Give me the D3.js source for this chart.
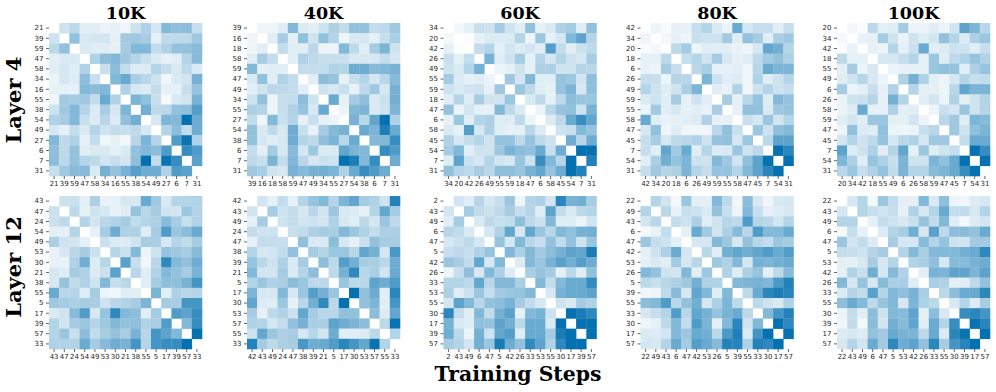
<!DOCTYPE html>
<html>
<head>
<meta charset="utf-8">
<script src="https://cdn.jsdelivr.net/npm/d3@7"></script>
<style>
body { margin: 0; background: #fff; }
svg { display: block; }
.axis text { font-family: "DejaVu Sans"; font-size: 7px; fill: #262626; }
.axis line { stroke: #262626; stroke-width: 0.7; }
.title { font-family: "DejaVu Serif"; font-weight: bold; }
</style>
</head>
<body>
<div id="chart"></div>
<script>
// neuron labels per panel
const labels_l4_10k = [21,39,59,47,58,34,16,55,38,54,49,27,6,7,31];
const labels_l4_40k = [39,16,18,58,59,47,49,34,55,27,54,38,6,7,31];
const labels_l4_60k = [34,20,42,26,49,55,59,18,47,6,58,45,54,7,31];
const labels_l4_80k = [42,34,20,18,6,26,49,59,55,58,47,45,7,54,31];
const labels_l4_100k = [20,34,42,18,55,49,6,26,58,59,47,45,7,54,31];
const labels_l12_10k = [43,47,24,54,49,53,30,21,38,55,5,17,39,57,33];
const labels_l12_40k = [42,43,49,24,47,38,39,21,5,17,30,53,57,55,33];
const labels_l12_60k = [2,43,49,6,47,5,42,26,33,53,55,30,17,39,57];
const labels_l12_80k = [22,49,43,6,47,42,53,26,5,39,55,33,30,17,57];
const labels_l12_100k = [22,43,49,6,47,5,53,42,26,33,55,30,39,17,57];

// upper triangles (rows right of the diagonal)
const values_l4_10k = [
  [2,2.7,1.2,1.2,.8,1,.6,2,3.2,1.7,5,4.5,4.6,2.3],
  [4.4,1.5,1.7,1.7,1,3.7,3.8,3.5,1,2.6,2.6,2.7,3.8],
  [1.5,1.3,1.3,1,3.6,5,5,2.4,3.2,4.3,4.3,4.8],
  [3.2,4.6,5,3.8,3,2.2,1.5,1,1.2,3,4.8],
  [2.2,4.6,2.4,1.4,1.4,3,2.4,1.5,2.6,1.5],
  [5,6,3.4,2.8,2,.6,1.5,1.8,5.5],
  [3.2,1.6,1.4,2.4,1,1,2.3,4.2],
  [5.2,4.4,2.2,.5,1.5,1.8,5.4],
  [5.6,2.6,2.8,4.4,4.5,6.8],
  [1.6,5.2,5,10,5.8],
  [3,4.6,2.4,5.8],
  [7,9.8,3.2],
  [8,7],
  [6.6]
];
const values_l4_40k = [
  [.7,.7,1.3,5,1.5,1.2,2,3.3,2.5,4.3,4.3,2.4,2.6,3.8],
  [1.2,3.6,1.1,4.4,1.9,4.4,3,.7,1.5,1.7,1.1,2.2,3.4],
  [2.4,1.2,1.2,2.8,.7,.7,5,2.6,1.2,3.6,5.3,1.9],
  [1.2,3.2,2.6,2.2,2.2,2.2,1.6,1.6,1.6,2.4,1.6],
  [2.4,2.4,2.4,3.2,3,5.8,5.8,4.8,5,5.4],
  [1.2,4.6,4.2,1,2.2,3,1.7,2.8,4.8],
  [2,1.6,2.2,.9,2.6,3.9,1.7,5.5],
  [6,1,3.6,4.5,1.5,2.1,5.6],
  [.8,4.9,5.3,1.5,2,5.2],
  [5.4,2.8,6.3,10,3.2],
  [6,5.2,9,6],
  [5,5,8],
  [8,7],
  [5.8]
];
const values_l4_60k = [
  [.5,1,2.2,2,3.6,2,1.2,4.3,1,1.5,3.2,3.6,1.3,4.4],
  [.2,1,1.5,1.4,1.5,3,.8,4,1,1.7,5,6.5,3],
  [2.4,3,1,1.8,1.4,1.8,1.2,6.8,2.4,1.2,2.1,2.6],
  [5.4,1.3,2,3.5,1,3,1.7,3,2,1.7,3.5],
  [.8,1,1.9,1,3.3,3.3,1.9,1.9,3,2.8],
  [3.8,1.8,5,1.3,1.3,4.2,3.9,1.8,4.5],
  [4,2.6,1.3,1,4.2,5.3,1.6,4.5],
  [1.5,2.6,1.1,2.6,4.6,4.1,4.1],
  [.8,2.8,4.2,4.4,2,5.4],
  [1.4,2.6,6,8,6.2],
  [2,2.2,5,4.2],
  [5.8,2.9,5.8],
  [10,10],
  [8.8]
];
const values_l4_80k = [
  [.7,.3,1,.9,2.3,3,1.5,.8,6,1.7,2.3,2.3,1.2,2.3],
  [.5,1,.7,2.2,2,2,3.7,1.3,4.4,3.5,1.2,3.4,3.8],
  [2.7,3.6,.8,1.3,1.2,1.2,.9,.7,1.7,6.2,5.6,3],
  [2.3,3,1.9,3.6,1.6,1,1.3,2.6,3.7,4.3,3.3],
  [2.8,3.4,1,1,1.2,.6,2.8,6,5.2,5.2],
  [5.2,2,1.2,1.4,.6,3.2,1.3,2,3],
  [1.2,.9,3.2,.6,2,3,2,2.3],
  [3.5,1,2.8,4.2,1.4,5,4.2],
  [1,4.4,4.4,1.5,3.8,4.2],
  [2.2,1.7,4,1.8,3],
  [4,2,4.5,5],
  [2.7,6.5,6.5],
  [10,8.5],
  [10]
];
const values_l4_100k = [
  [.5,.2,2.6,1.1,1.3,3.6,.8,.8,1.2,.7,1.8,6.5,5.2,2.8],
  [.9,1,3.6,1.9,.8,2,1.3,1.8,4.4,3,1.4,3.3,4],
  [1,.8,3,1.1,2.1,6,1.2,1.4,2,2,1.2,2.3],
  [1.6,1.6,2.3,3,1,4,1.3,2.6,3.2,4.2,3.2],
  [.8,1,1,1,4,4.4,4.2,1.2,3.3,4.2],
  [3.2,5.5,3.2,1.1,.8,1.7,3,2.2,2.5],
  [3,1.1,1.1,.7,2.8,6.3,5.3,5.3],
  [1.2,1.8,.8,3.2,1.1,1.9,3],
  [.7,2.2,1.7,4,2,3],
  [2.8,3.8,1.3,5.2,4.8],
  [3.8,1.9,4.4,5.2],
  [2.4,6,6],
  [10,8],
  [10]
];
const values_l12_10k = [
  [2.1,2.1,1.1,3.3,.9,.9,1.6,1.6,6,3.8,1.5,3,3,3.2],
  [2.6,1,1.9,1.6,.9,1.3,4.2,2.8,3.6,1.9,1.8,4,3.1],
  [3,1.8,2.8,3.2,3.6,2.5,3,3.3,4.8,3.6,2.2,3.1],
  [1,3.5,5.8,3.2,3.2,1.3,3.6,7,4,4.6,6],
  [2.1,1.4,1.4,1.9,3.5,3.4,1.6,3,2.5,3.6],
  [2.9,2.1,5,.8,2,4.2,3.9,3.5,4.8],
  [6.6,2.3,.6,2.8,8.3,5,4.3,5.8],
  [2.8,1.3,3.1,5,4.3,3.5,5.4],
  [1.2,3.5,4.6,4.5,5.4,7.5],
  [5.3,1.2,3.2,2.8,3],
  [3.6,3.4,7.4,7.4],
  [7,6.5,8],
  [5,8],
  [10]
];
const values_l12_40k = [
  [1.8,1,2.4,1,3,4.2,5,3,5.2,6.3,3.6,3.2,2,8.8],
  [3.6,2,2.4,1.6,2.8,1.8,4,1.6,1.4,1,3,6.2,3.6],
  [2,2.4,1.8,2,1.8,3.2,1.6,1.3,2.6,1.7,4,2.6],
  [2.2,2.5,3.3,3.6,3.4,5,4,3.2,2.4,3.3,3.3],
  [4.4,1.5,1.5,4.6,1.6,1,2.1,4.4,3.5,3.5],
  [3.6,3,4,4,2.8,6.3,5.5,1.7,7.3],
  [4.6,2.6,6.8,5.6,3.6,3.4,2.8,5.8],
  [2.6,5.5,8.3,2.9,3.4,1.8,6],
  [4,2.7,2.8,6.5,5.8,7],
  [10,4.4,5.8,1.2,8.5],
  [4.4,5.2,1.2,7.4],
  [4.6,1.4,6.2],
  [2.7,9.8],
  [3]
];
const values_l12_60k = [
  [1.8,1.2,2.9,1.6,2.3,4,.7,3,3.3,1.8,8.5,5.4,5.7,3.5],
  [3.6,2.5,2.1,2.6,3.5,2.3,3,1.3,6.5,2.4,1.5,2.7,3],
  [1.5,2.6,2.2,2.5,4.5,2.7,2.1,5,1.3,1.3,.8,1.8],
  [1.7,3.2,6.2,1.6,6.2,4,2.8,5,4.4,5.5,5.6],
  [4.2,1.7,5,2.8,2.3,4.3,2.5,4.3,2,4],
  [5,3.3,5,3.7,4.6,5.5,6.5,6.2,9.2],
  [1.4,5,4,5.4,6.6,5.6,6.8,5.8],
  [3.4,4.2,3.6,1,2.7,1.3,4.4],
  [5,2.5,5,6,6,8.2],
  [1.6,5.4,6,6,6.5],
  [2,1.5,3.6,3.2],
  [10,9.2,8.4],
  [10,10],
  [10]
];
const values_l12_80k = [
  [3,1.8,.4,4,1.1,1.1,5,2.6,.6,4.6,1.6,.6,1.5,1.7],
  [2.8,.9,2.3,2,1.5,4.3,2.2,.7,5,2.3,1,1.4,1.6],
  [2.4,2,3.3,1.2,2,2.9,2.6,7,3,2.6,1.8,3],
  [1.1,6,3.7,1.8,3.3,4.8,2.8,7,5,5,6],
  [1.7,1.7,5,3.9,1.6,4.3,2.9,2.4,4,3.6],
  [2.8,1.2,5.6,6.3,5.7,6.3,7,6,6.8],
  [3.9,3.2,5,1.7,5.5,5.3,5.6,6],
  [3.2,1.3,3.3,4.2,1.1,2.7,4.8],
  [5,5.2,5.4,5,7.2,8.8],
  [2.6,6,8.5,9,8.6],
  [2.7,1.9,1.5,3.2],
  [5,7.5,8.8],
  [10,8.3],
  [10]
];
const values_l12_100k = [
  [1.7,3,.5,4,2.4,1.1,1.1,5,1.5,4.5,.8,.6,1.4,1.6],
  [3,2.3,1.8,2.3,1,3.2,1.6,3,6,2.4,2.5,1.6,3],
  [1,2.4,2,1.6,2.2,4.2,2.5,5,1.2,.5,1.4,1.8],
  [1.4,3,3.5,5.7,1.6,6.6,2.6,4.6,4.7,4.3,6],
  [3.5,1.7,1.7,4.8,3,4.2,2,1.8,3.7,3.7],
  [3,4.9,3.4,5,5,5,5.6,6,8.4],
  [3.1,3.4,4.5,1.6,4.8,4.8,5.4,5.8],
  [1.2,5.4,5.2,6.5,6.4,5.2,6.5],
  [3.4,3.2,1.1,1.2,2.6,4.3],
  [2.7,4.6,6,6,8.5],
  [1.6,3,1.4,3.5],
  [8,8.5,7.5],
  [9.8,8.6],
  [10]
];

const steps = ["10K","40K","60K","80K","100K"];
const layers = ["Layer 4","Layer 12"];
const panel_labels = [
  [labels_l4_10k,labels_l4_40k,labels_l4_60k,labels_l4_80k,labels_l4_100k],
  [labels_l12_10k,labels_l12_40k,labels_l12_60k,labels_l12_80k,labels_l12_100k]
];
const panel_values = [
  [values_l4_10k,values_l4_40k,values_l4_60k,values_l4_80k,values_l4_100k],
  [values_l12_10k,values_l12_40k,values_l12_60k,values_l12_80k,values_l12_100k]
];

const width = 996, height = 392;
const size = 153;
const panel_x = [49,247,443.5,640.5,837];
const panel_y = [23,196];
const layer_y = [100,267];

let svg = d3.select("#chart").append("svg")
  .attr("width", width)
  .attr("height", height);

// white to the darkest blue of the picture
let colour = d3.scaleLinear().domain([0,10]).range(["#ffffff","#0571b0"]);

// turn the upper triangle into cells for both sides of the diagonal
function cellsOf(tri) {
  let cells = [];
  tri.forEach((row,i) => {
    row.forEach((v,k) => {
      let j = i+k+1;
      cells.push({i:i,j:j,v:v});
      cells.push({i:j,j:i,v:v});
    });
  });
  return cells;
}

layers.forEach((layer,r) => {
  steps.forEach((step,c) => {
    let labels = panel_labels[r][c];
    let idx = d3.range(labels.length);
    let x = d3.scaleBand().domain(idx).range([0,size]);
    let y = d3.scaleBand().domain(idx).range([0,size]);

    let g = svg.append("g")
      .attr("transform", `translate(${panel_x[c]},${panel_y[r]})`);

    // small overlap hides the seams between cells
    g.selectAll("rect")
      .data(cellsOf(panel_values[r][c]))
      .enter()
      .append("rect")
      .attr("x", d => x(d.j))
      .attr("y", d => y(d.i))
      .attr("width", x.bandwidth()+0.3)
      .attr("height", y.bandwidth()+0.3)
      .style("fill", d => colour(d.v));

    g.append("g")
      .attr("class", "axis")
      .call(d3.axisLeft(y).tickSize(3).tickPadding(2.5).tickFormat(i => labels[i]))
      .call(a => a.select(".domain").remove());

    g.append("g")
      .attr("class", "axis")
      .attr("transform", `translate(0,${size})`)
      .call(d3.axisBottom(x).tickSize(3).tickPadding(2).tickFormat(i => labels[i]))
      .call(a => a.select(".domain").remove());

    if (r == 0) {
      svg.append("text")
        .attr("class", "title")
        .attr("x", panel_x[c]+size/2)
        .attr("y", 19)
        .style("text-anchor", "middle")
        .style("font-size", "17.5px")
        .text(step);
    }
  });

  svg.append("text")
    .attr("class", "title")
    .attr("transform", `translate(21,${layer_y[r]}) rotate(-90)`)
    .style("text-anchor", "middle")
    .style("font-size", "21px")
    .text(layer);
});

svg.append("text")
  .attr("class", "title")
  .attr("x", 518)
  .attr("y", 380.5)
  .style("text-anchor", "middle")
  .style("font-size", "20.4px")
  .text("Training Steps");
</script>
</body>
</html>
